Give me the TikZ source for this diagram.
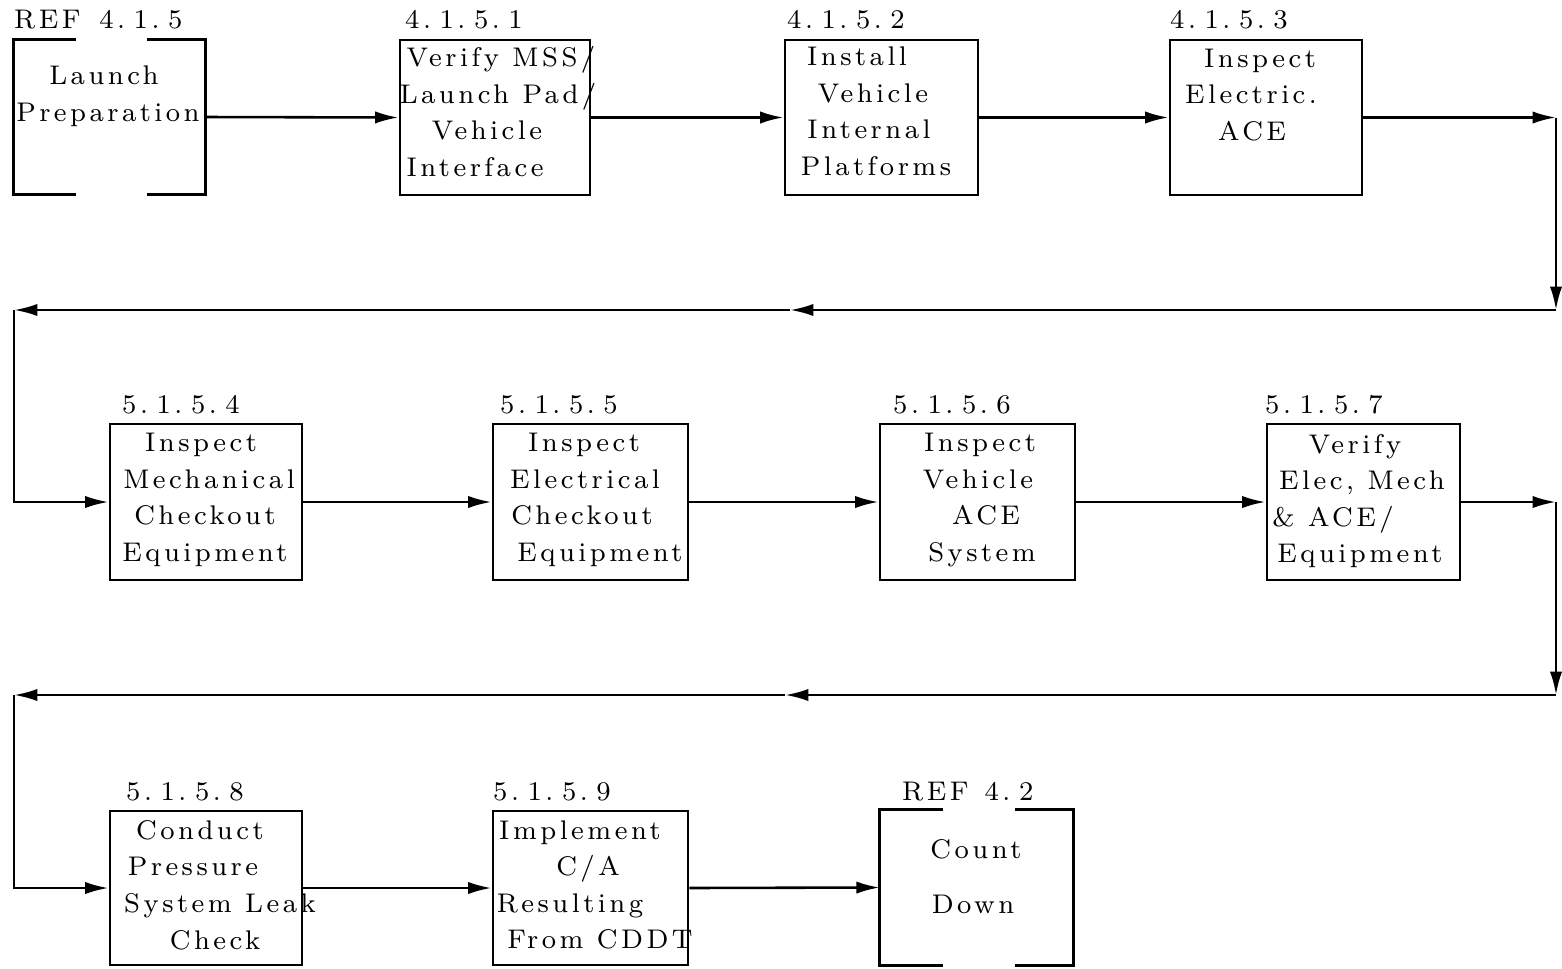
\documentclass[tikz,border=0pt]{standalone}
\usepackage{fontspec}
\setmainfont{lmroman8-regular.otf}[LetterSpace=13]
\usetikzlibrary{arrows.meta,calc}
\newlength\pxu \setlength\pxu{0.06cm}
\newcommand\sh[1]{\hspace*{#1\pxu}}
\newcommand\gp{\hspace{0.32em}}
\newcommand\ws{\hspace{0.5em}}
\tikzset{
  box/.style 2 args={draw, line width=2.5pt, rectangle, inner sep=0pt,
    minimum width=#1*0.03cm, minimum height=#2*0.03cm},
  bbox/.style 2 args={draw=none, rectangle, inner sep=0pt,
    minimum width=#1*0.03cm, minimum height=#2*0.03cm},
  brk/.style={line width=2.5pt, line cap=rect},
  txt/.style={align=center, text width=9cm, inner sep=0pt,
    font=\fontsize{23}{31.2}\selectfont},
  lbl/.style={anchor=base west, inner sep=0pt, font=\fontsize{23}{26}\selectfont},
  conn/.style={line width=2.2pt, -{Latex[length=20pt,width=10.5pt]}}
}
\begin{document}
\begin{tikzpicture}[x=0.03cm,y=-0.03cm]
\useasboundingbox (0,0) rectangle (1562,968);
% row 1
\node[bbox={191}{154}] (b0) at (109.5,117) {};
\draw[brk] ($(b0.north west)+(61,0)$) -- (b0.north west) -- (b0.south west) -- ++(61,0);
\draw[brk] ($(b0.north east)-(57,0)$) -- (b0.north east) -- (b0.south east) -- ++(-57,0);
\node[box={190}{155}] (b1) at (495,117.5) {};
\node[box={193}{155}] (b2) at (881.5,117.5) {};
\node[box={192}{155}] (b3) at (1266,117.5) {};
% row 2
\node[box={192}{156}] (b4) at (206,502) {};
\node[box={195}{156}] (b5) at (590.5,502) {};
\node[box={195}{156}] (b6) at (977.5,502) {};
\node[box={193}{156}] (b7) at (1363.5,502) {};
% row 3
\node[box={192}{154}] (b8) at (206,888) {};
\node[box={195}{154}] (b9) at (590.5,888) {};
\node[bbox={193}{155}] (b10) at (976.5,887.5) {};
\draw[brk] ($(b10.north west)+(62,0)$) -- (b10.north west) -- (b10.south west) -- ++(62,0);
\draw[brk] ($(b10.north east)-(57,0)$) -- (b10.north east) -- (b10.south east) -- ++(-57,0);

% labels
\node[lbl] (l0) at (14,28) {REF\hspace{0.7em}4.\gp1.\gp5};
\node[lbl] (l1) at (405,28) {4.\gp1.\gp5.\gp1};
\node[lbl] (l2) at (787,28) {4.\gp1.\gp5.\gp2};
\node[lbl] (l3) at (1170,28) {4.\gp1.\gp5.\gp3};
\node[lbl] (l4) at (122,413) {5.\gp1.\gp5.\gp4};
\node[lbl] (l5) at (500,413) {5.\gp1.\gp5.\gp5};
\node[lbl] (l6) at (893,413) {5.\gp1.\gp5.\gp6};
\node[lbl] (l7) at (1265,413) {5.\gp1.\gp5.\gp7};
\node[lbl] (l8) at (126,800) {5.\gp1.\gp5.\gp8};
\node[lbl] (l9) at (493,800) {5.\gp1.\gp5.\gp9};
\node[lbl] (l10) at (902,800) {REF\hspace{0.6em}4.\gp2};

% texts
\node[txt] (t0) at (110,96.5) {\sh{-6}Launch\\\sh{-2}Preparation};
\node[txt] (t1) at (495,111.5) {\sh{6}Verify\ws MSS/\\\sh{3}Launch\ws Pad/\\\sh{-8}Vehicle\\\sh{-20}Interface};
\node[txt] (t2) at (881,111.5) {\sh{-24}Install\\\sh{-8}Vehicle\\\sh{-12}Internal\\\sh{-5}Platforms};
\node[txt] (t3) at (1266,95) {\sh{-6}Inspect\\\sh{-15}Electric.\\\sh{-14}ACE};
\node[txt] (t4) at (206,500) {\sh{-5}Inspect\\\sh{3}Mechanical\\\sh{-1}Checkout\\\sh{-1}Equipment};
\node[txt] (t5) at (590,500) {\sh{-6}Inspect\\\sh{-5}Electrical\\\sh{-8}Checkout\\\sh{10}Equipment};
\node[txt] (t6) at (977,500) {\sh{3}Inspect\\\sh{1}Vehicle\\\sh{9}ACE\\\sh{5}System};
\node[txt] (t7) at (1363,501) {\sh{-8}Verify\\\sh{-1}Elec,\ws Mech\\\sh{-30}\&\ws ACE/\\\sh{-3}Equipment};
\node[txt] (t8) at (206,885) {\sh{-6}Conduct\\\sh{-13}Pressure\\\sh{14}System\ws Leak\\\sh{9}Check};
\node[txt] (t9) at (590,885) {\sh{-10}Implement\\\sh{-2}C/A\\\sh{-20}Resulting\\\sh{10}From\ws CDDT};
\node[txt, font=\fontsize{23}{46.8}\selectfont] (t10) at (976,877) {Count\\\sh{-3}Down};

% connectors row 1
\draw[conn] (b0.east) -- (b1.west);
\draw[conn] (b1.east) -- (b2.west);
\draw[conn] (b2.east) -- (b3.west);
\coordinate (r1) at (1556,117.5);
\coordinate (d1) at (1556,310);
\coordinate (m1) at (790,310);
\coordinate (e1) at (14,310);
\coordinate (k1) at (14,502);
\draw[conn] (b3.east) -- (r1);
\draw[conn] (r1) -- (d1);
\draw[conn] (d1) -- (m1);
\draw[conn] (m1) -- (e1);
\draw[conn] (e1) -- (k1) -- (b4.west);
% row 2
\draw[conn] (b4.east) -- (b5.west);
\draw[conn] (b5.east) -- (b6.west);
\draw[conn] (b6.east) -- (b7.west);
\coordinate (r2) at (1556,502);
\coordinate (d2) at (1556,695);
\coordinate (m2) at (785,695);
\coordinate (e2) at (14,695);
\coordinate (k2) at (14,888);
\draw[conn] (b7.east) -- (r2);
\draw[conn] (r2) -- (d2);
\draw[conn] (d2) -- (m2);
\draw[conn] (m2) -- (e2);
\draw[conn] (e2) -- (k2) -- (b8.west);
% row 3
\draw[conn] (b8.east) -- (b9.west);
\draw[conn] (b9.east) -- (b10.west);
\end{tikzpicture}
\end{document}
